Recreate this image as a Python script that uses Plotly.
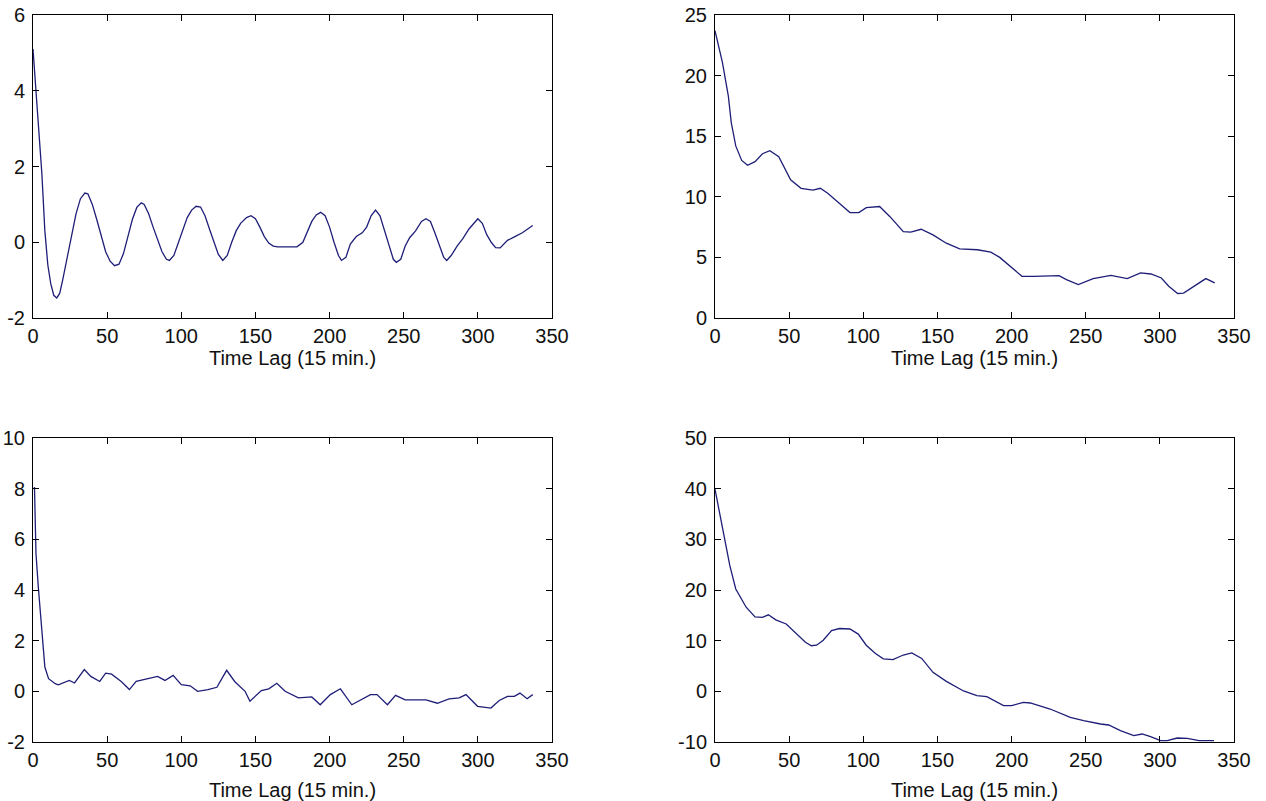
import plotly.graph_objects as go

# Lagged correlation curves, four sites, lag in 15-minute steps
lag_a = [0, 2, 4, 6, 8, 10, 12, 14, 16, 18, 20, 23, 26, 29, 32, 35, 37, 40, 43, 46, 49, 52, 55, 58,
         61, 64, 67, 70, 73, 75, 78, 81, 84, 87, 90, 92, 95, 98, 101, 104, 107, 110, 113, 116, 119,
         122, 125, 128, 131, 134, 137, 140, 144, 147, 150, 153, 156, 159, 162, 165, 178, 182, 185,
         188, 191, 194, 197, 200, 203, 206, 208, 211, 214, 218, 222, 225, 228, 231, 234, 237, 240,
         243, 245, 248, 251, 254, 258, 262, 265, 268, 271, 274, 277, 279, 282, 286, 290, 294, 297,
         300, 303, 306, 309, 312, 315, 320, 325, 330, 337]
val_a = [5.1, 4.0, 2.8, 1.8, 0.3, -0.6, -1.1, -1.4, -1.47, -1.35, -1.0, -0.4, 0.2, 0.75, 1.15, 1.30,
         1.28, 1.0, 0.6, 0.15, -0.25, -0.5, -0.62, -0.58, -0.3, 0.15, 0.6, 0.92, 1.04, 1.0, 0.75, 0.4,
         0.05, -0.25, -0.45, -0.48, -0.35, 0.0, 0.35, 0.65, 0.85, 0.95, 0.93, 0.7, 0.35, 0.0, -0.32,
         -0.48, -0.35, 0.0, 0.3, 0.5, 0.65, 0.7, 0.62, 0.4, 0.15, -0.02, -0.1, -0.12, -0.12, 0.0, 0.3,
         0.55, 0.72, 0.79, 0.7, 0.4, 0.0, -0.35, -0.48, -0.4, -0.05, 0.15, 0.25, 0.4, 0.7, 0.85, 0.7,
         0.3, -0.1, -0.45, -0.53, -0.45, -0.1, 0.12, 0.3, 0.55, 0.62, 0.55, 0.25, -0.1, -0.4, -0.48,
         -0.35, -0.1, 0.1, 0.35, 0.5, 0.62, 0.5, 0.2, 0.0, -0.14, -0.15, 0.05, 0.15, 0.25, 0.44]

lag_b = [0, 5, 9, 11, 14, 18, 22, 27, 32, 37, 43, 47, 51, 58, 66, 71, 76, 84, 91, 97, 102, 111, 118,
         127, 132, 139, 147, 156, 165, 177, 186, 192, 200, 207, 215, 232, 237, 245, 255, 267, 278,
         287, 294, 301, 306, 312, 316, 323, 331, 337]
val_b = [23.7, 21.1, 18.3, 16.1, 14.2, 13.0, 12.6, 12.9, 13.55, 13.8, 13.3, 12.3, 11.4, 10.7, 10.55,
         10.7, 10.3, 9.45, 8.7, 8.7, 9.1, 9.2, 8.36, 7.13, 7.08, 7.32, 6.86, 6.17, 5.71, 5.63, 5.44,
         5.0, 4.13, 3.44, 3.44, 3.5, 3.17, 2.76, 3.25, 3.52, 3.25, 3.72, 3.63, 3.3, 2.62, 2.02, 2.05,
         2.62, 3.25, 2.9]

lag_c = [1, 1.5, 2, 3.6, 6, 8, 10.5, 15, 17, 24.5, 28, 34.6, 39, 45, 49, 53, 59.5, 65, 69.6, 76, 84,
         89, 94.5, 100, 106, 111, 118, 124, 130.6, 136, 143, 146.3, 154, 159, 164.4, 170, 179, 188,
         193.7, 200.5, 207.3, 215, 222, 227.6, 232, 239, 244.5, 251, 265, 272.7, 280.6, 287.4, 292,
         299.8, 308.8, 314.4, 320, 324.6, 328.4, 333.2, 337]
val_c = [8.07, 6.7, 5.45, 4.1, 2.4, 0.96, 0.5, 0.3, 0.26, 0.43, 0.33, 0.86, 0.59, 0.39, 0.72, 0.68,
         0.39, 0.07, 0.39, 0.49, 0.59, 0.43, 0.63, 0.26, 0.22, 0.0, 0.07, 0.16, 0.83, 0.39, 0.0, -0.39,
         0.03, 0.1, 0.32, 0.0, -0.26, -0.22, -0.53, -0.13, 0.1, -0.53, -0.3, -0.13, -0.13, -0.53,
         -0.16, -0.34, -0.34, -0.47, -0.3, -0.26, -0.13, -0.59, -0.66, -0.36, -0.2, -0.2, -0.07, -0.29,
         -0.13]

lag_d = [0, 5, 10, 14, 21, 27, 32, 36, 41, 48, 54, 61, 65, 68.5, 73, 78.6, 84, 91, 96.6, 102, 108,
         113.5, 120, 127, 132.7, 139.4, 147, 156, 167.6, 176.6, 183.3, 194.6, 200, 208, 212.6, 219.4,
         226, 239.6, 248.6, 260, 265.5, 273.4, 282.4, 288, 293.7, 300.5, 305, 311.7, 318.5, 326.4,
         336.5]
val_d = [39.9, 32.7, 24.8, 20.2, 16.6, 14.7, 14.6, 15.1, 14.1, 13.3, 11.6, 9.67, 9.0, 9.1, 10.1,
         12.0, 12.4, 12.3, 11.3, 9.1, 7.5, 6.4, 6.25, 7.17, 7.57, 6.5, 3.75, 1.97, 0.07, -0.86, -1.05,
         -2.83, -2.83, -2.17, -2.3, -2.96, -3.49, -5.13, -5.79, -6.45, -6.64, -7.76, -8.75, -8.42,
         -8.95, -9.74, -9.74, -9.21, -9.28, -9.74, -9.74]

x_ticks = [0, 50, 100, 150, 200, 250, 300, 350]
y_ticks_a = [-2, 0, 2, 4, 6]
y_ticks_b = [0, 5, 10, 15, 20, 25]
y_ticks_c = [-2, 0, 2, 4, 6, 8, 10]
y_ticks_d = [-10, 0, 10, 20, 30, 40, 50]
x_title = "Time Lag (15 min.)"

W, H = 1266, 801
FONT = dict(family="Liberation Sans, Arial, sans-serif", size=20, color="#111111")
LINE = "#1e1e78"

# (x, y, y ticks, pixel span across, pixel span down, title standoff)
panels = [
    (lag_a, val_a, y_ticks_a, (33, 552), (15, 318), 1),
    (lag_b, val_b, y_ticks_b, (715, 1234), (15, 318), 1),
    (lag_c, val_c, y_ticks_c, (33, 552), (438, 742), 12),
    (lag_d, val_d, y_ticks_d, (715, 1234), (438, 742), 12),
]

fig = go.Figure()
layout = {}
for i, (lx, ly, yt, (px0, px1), (py0, py1), stand) in enumerate(panels, start=1):
    sfx = "" if i == 1 else str(i)
    fig.add_trace(go.Scatter(x=lx, y=ly, mode="lines", line=dict(color=LINE, width=1.3),
                             xaxis="x" + sfx, yaxis="y" + sfx, showlegend=False,
                             hoverinfo="skip"))
    common = dict(showline=True, linecolor="black", linewidth=1, mirror="ticks",
                  ticks="inside", ticklen=6, tickcolor="black", tickwidth=1,
                  showgrid=False, zeroline=False, tickfont=FONT, automargin=False)
    layout["xaxis" + sfx] = dict(common, domain=[px0 / W, px1 / W], range=[0, 350],
                                 tickvals=x_ticks, ticktext=[str(v) for v in x_ticks],
                                 anchor="y" + sfx,
                                 title=dict(text=x_title, font=FONT, standoff=stand))
    layout["yaxis" + sfx] = dict(common, domain=[1 - py1 / H, 1 - py0 / H],
                                 range=[yt[0], yt[-1]], tickvals=yt,
                                 ticktext=[str(v) for v in yt], anchor="x" + sfx,
                                 ticklabelstandoff=3)

fig.update_layout(**layout)
fig.update_layout(width=W, height=H, margin=dict(l=0, r=0, t=0, b=0),
                  paper_bgcolor="white", plot_bgcolor="white", font=FONT)
fig.write_html("out.html")
